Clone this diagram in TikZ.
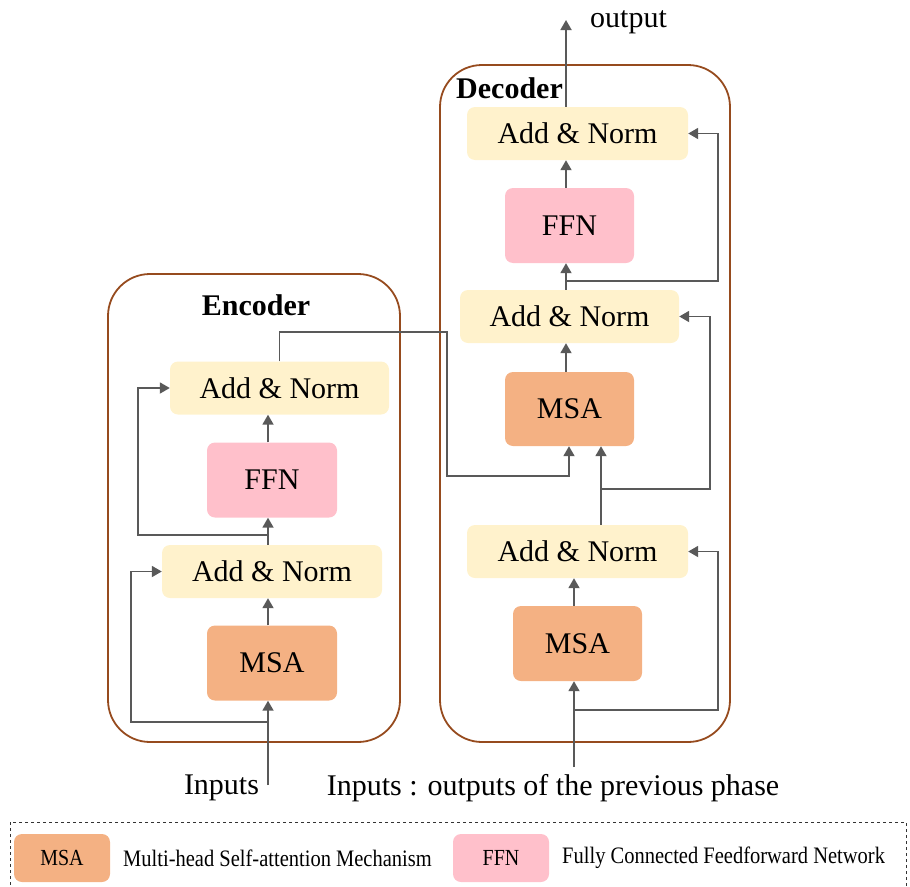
\documentclass[tikz,border=0pt]{standalone}
\usepackage{fontspec}
\setmainfont{Liberation Serif}
\usetikzlibrary{arrows.meta,calc}
\definecolor{cream}{HTML}{FFF2CC}
\definecolor{pinkb}{HTML}{FFC0CB}
\definecolor{orangeb}{HTML}{F4B183}
\definecolor{linegray}{HTML}{595959}
\definecolor{brownb}{RGB}{150,75,30}
\begin{document}
\begin{tikzpicture}[x=1pt,y=-1pt,
  box/.style={rounded corners=8pt,inner sep=0pt,font=\fontsize{30}{32}\selectfont},
  addnorm/.style={box,fill=cream,minimum width=220pt,minimum height=53pt},
  ffn/.style={box,fill=pinkb,minimum width=130pt,minimum height=75pt},
  msa/.style={box,fill=orangeb,minimum width=130pt,minimum height=75pt},
  container/.style={draw=brownb,line width=1.8pt,rounded corners=42pt},
  conn/.style={draw=linegray,line width=1.8pt},
  arr/.style={conn,-{Triangle[width=11pt,length=10pt]}},
  lbl/.style={inner sep=0pt,font=\fontsize{30}{32}\selectfont},
  blbl/.style={inner sep=0pt,font=\fontsize{30}{32}\selectfont\bfseries},
  legbox/.style={rounded corners=8pt,inner sep=0pt,minimum width=96pt,minimum height=48pt,font=\fontsize{20}{22}\selectfont},
  legtxt/.style={inner sep=0pt,anchor=west,font=\fontsize{20.5}{22}\selectfont}
]
\useasboundingbox (0,0) rectangle (910,886);

% containers
\draw[container] (108,274) rectangle (400,742);
\draw[container] (440,65) rectangle (730,742);
\node[blbl] (enclbl) at (256,305) {Encoder};
\node[blbl,anchor=west] (declbl) at (456,88) {Decoder};

% encoder nodes
\node[addnorm,minimum width=219pt] (eA2) at (279.5,388) {Add \& Norm};
\node[ffn] (eF) at (272,480) {FFN};
\node[addnorm] (eA1) at (272,571.5) {Add \& Norm};
\node[msa] (eM) at (272,663) {MSA};

% decoder nodes
\node[addnorm,minimum width=221pt] (dA3) at (577.5,133.5) {Add \& Norm};
\node[ffn,minimum width=129pt] (dF) at (569.5,225.5) {FFN};
\node[addnorm,minimum width=219pt] (dA2) at (569.5,316.5) {Add \& Norm};
\node[msa,minimum width=129pt,minimum height=74pt] (dM2) at (569.5,409) {MSA};
\node[addnorm,minimum width=221pt] (dA1) at (577.5,551.5) {Add \& Norm};
\node[msa,minimum width=129pt] (dM1) at (577.5,643.5) {MSA};

% helper coordinates
\coordinate (ein) at (268,785);
\coordinate (eb1) at (268,722);
\coordinate (eb2) at (268,535);
\coordinate (eL1) at (131,0);
\coordinate (eL2) at (138,0);
\coordinate (din) at (574,767);
\coordinate (db1) at (574,710);
\coordinate (dm) at (601,0);
\coordinate (db2) at (601,489);
\coordinate (dcol) at (566,0);
\coordinate (db3) at (566,281);
\coordinate (dR1) at (718,0);
\coordinate (dR2) at (710,0);
\coordinate (xin) at (569,476);
\coordinate (eturn) at (447,332);
\coordinate (out) at (566,20);

% encoder connectors
\draw[arr] (ein) -- (eM.south -| ein);
\draw[arr] (eb1) -- (eb1 -| eL1) |- (eA1.west);
\draw[arr] (eM.north -| ein) -- (eA1.south -| ein);
\draw[arr] (eA1.north -| ein) -- (eF.south -| ein);
\draw[arr] (eb2) -- (eb2 -| eL2) |- (eA2.west);
\draw[arr] (eF.north -| ein) -- (eA2.south -| ein);

% encoder -> decoder
\draw[arr] (eA2.north) |- (eturn) |- (xin) -- (dM2.south -| xin);

% decoder connectors
\draw[arr] (din) -- (dM1.south -| din);
\draw[arr] (db1) -- (db1 -| dR1) |- (dA1.east);
\draw[arr] (dM1.north -| din) -- (dA1.south -| din);
\draw[arr] (dA1.north -| dm) -- (dM2.south -| dm);
\draw[arr] (db2) -- (db2 -| dR2) |- (dA2.east);
\draw[arr] (dM2.north -| dcol) -- (dA2.south -| dcol);
\draw[arr] (dA2.north -| dcol) -- (dF.south -| dcol);
\draw[arr] (db3) -- (db3 -| dR1) |- (dA3.east);
\draw[arr] (dF.north -| dcol) -- (dA3.south -| dcol);
\draw[arr] (dA3.north -| dcol) -- (out);

% labels
\node[lbl,anchor=west] (outlbl) at (590,22) {output};
\node[lbl] (inenc) at (221.5,788) {Inputs};
\node[lbl] (indec) at (553,788) {Inputs : outputs of the previous phase};

% legend
\draw[dashed,line width=0.9pt,black!80] (10,822) rectangle (906,892);
\node[legbox,fill=orangeb] (lmsa) at (62,858) {\scalebox{1}[1.15]{MSA}};
\node[legtxt] (lmsat) at (123,858) {\scalebox{1}[1.15]{Multi-head Self-attention Mechanism}};
\node[legbox,fill=pinkb] (lffn) at (501,858) {\scalebox{1}[1.15]{FFN}};
\node[legtxt] (lffnt) at (562,858) {\scalebox{1}[1.15]{Fully Connected Feedforward Network}};
\end{tikzpicture}
\end{document}
